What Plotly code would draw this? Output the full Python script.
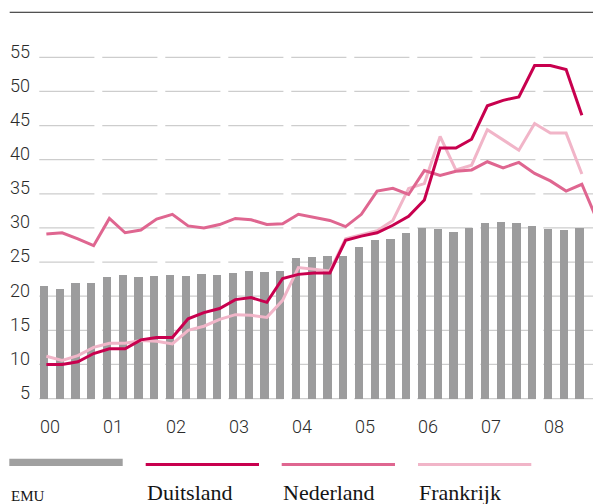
import plotly.graph_objects as go

# ---- data ----
years = ["00", "01", "02", "03", "04", "05", "06", "07", "08"]
quarters = [f"20{y} K{q}" for y in years for q in (1, 2, 3, 4)]

emu = [21.5, 21.1, 21.9, 21.9, 22.8, 23.1, 22.8, 22.9, 23.1, 22.9, 23.2, 23.1,
       23.4, 23.7, 23.5, 23.7, 25.6, 25.7, 25.9, 25.9, 27.2, 28.2, 28.4, 29.2,
       30.0, 29.8, 29.4, 30.0, 30.7, 30.9, 30.7, 30.3, 29.8, 29.7, 30.0]
duitsland = [10.0, 10.0, 10.4, 11.6, 12.3, 12.3, 13.6, 13.95, 13.95, 16.7, 17.6, 18.2,
             19.5, 19.8, 19.1, 22.6, 23.2, 23.4, 23.4, 28.2, 28.8, 29.3, 30.4, 31.7,
             34.1, 41.7, 41.7, 43.0, 47.9, 48.7, 49.2, 53.8, 53.8, 53.2, 46.5]
nederland = [29.1, 29.3, 28.4, 27.4, 31.4, 29.3, 29.7, 31.3, 32.0, 30.3, 30.0, 30.5,
             31.4, 31.2, 30.5, 30.6, 32.0, 31.6, 31.1, 30.2, 32.0, 35.4, 35.8, 34.9,
             38.4, 37.7, 38.3, 38.5, 39.7, 38.8, 39.6, 38.0, 36.9, 35.4, 36.4, 31.0]
frankrijk = [11.2, 10.6, 11.3, 12.5, 13.1, 13.1, 13.5, 13.4, 13.0, 15.0, 15.6, 16.6,
             17.3, 17.2, 16.9, 19.4, 24.2, 24.0, 23.7, 28.4, 29.0, 29.6, 31.1, 35.8,
             36.5, 43.4, 38.5, 39.2, 44.4, 42.9, 41.4, 45.3, 43.9, 43.9, 37.9]
yticks = [5, 10, 15, 20, 25, 30, 35, 40, 45, 50, 55]
series_names = ["EMU", "Duitsland", "Nederland", "Frankrijk"]

# ---- styling ----
C_BAR = "#9c9c9d"
C_DE = "#c8004e"
C_NL = "#df6690"
C_FR = "#f1b5c8"
C_GRID = "#cdcdcd"
TXT = "#2b2b2b"

W, H = 593, 504
ML, MR, MT = 36, 0, 40
PB = 401.7  # pixel y of plot bottom
MB = H - PB
PW = W - ML - MR
PH = PB - MT
XR = [-0.508, 34.857]
YR = [4.5, 57.54]
LOFF = 0.15  # lines sit slightly right of bar centres


def px(xp):
    return (xp - ML) / PW


def py(yp):
    return (PB - yp) / PH


fig = go.Figure()
fig.add_trace(go.Bar(
    x=list(range(len(emu))), y=[v - 5 for v in emu], base=5,
    width=0.51, marker=dict(color=C_BAR, line=dict(width=0)),
    name=series_names[0], hovertext=quarters[:len(emu)]))
for vals, col, nm in [(frankrijk, C_FR, series_names[3]),
                      (nederland, C_NL, series_names[2]),
                      (duitsland, C_DE, series_names[1])]:
    fig.add_trace(go.Scatter(
        x=[i + LOFF for i in range(len(vals))], y=vals, mode="lines",
        line=dict(color=col, width=3), name=nm,
        hovertext=quarters[:len(vals)]))

shapes = []
# segmented gridlines per year
for k in range(len(years)):
    x0 = 4 * k - 0.3
    x1 = min(4 * k + 3.2, XR[1])
    for t in yticks:
        shapes.append(dict(type="line", xref="x", yref="y", x0=x0, x1=x1,
                           y0=t, y1=t, layer="below",
                           line=dict(color=C_GRID, width=1.3)))
# top rule
shapes.append(dict(type="line", xref="paper", yref="paper", x0=px(9.7), x1=1.0,
                   y0=py(12.3), y1=py(12.3), line=dict(color="#1e1e1e", width=1)))
# legend swatches
shapes.append(dict(type="rect", xref="paper", yref="paper", x0=px(9.3), x1=px(122.7),
                   y0=py(465.7), y1=py(458.3), fillcolor="#a0a0a0", line=dict(width=0)))
for (xa, xb), col in [((145.7, 259.0), C_DE), ((281.7, 395.0), C_NL), ((418.0, 531.3), C_FR)]:
    shapes.append(dict(type="line", xref="paper", yref="paper", x0=px(xa), x1=px(xb),
                       y0=py(464.2), y1=py(464.2), line=dict(color=col, width=3)))

ann = []
axfont = dict(family="Roboto, 'Liberation Sans', sans-serif", size=18, color=TXT, weight=300)
for t in yticks:
    ann.append(dict(xref="paper", yref="y", x=px(31.5), y=t, text=str(t), showarrow=False,
                    xanchor="right", yanchor="middle", yshift=6.2, font=axfont))
for k, lab in enumerate(years):
    ann.append(dict(xref="x", yref="paper", x=4 * k - 0.3, y=py(426.1), text=lab,
                    showarrow=False, xanchor="left", yanchor="middle", xshift=-1.5,
                    font=axfont))
serif = "'Liberation Serif', 'DejaVu Serif', serif"
ann.append(dict(xref="paper", yref="paper", x=px(8.5), y=py(495.6), text=series_names[0],
                showarrow=False, xanchor="left", yanchor="middle",
                font=dict(family=serif, size=15, color="#151515")))
for xl, nm in [(144.5, series_names[1]), (280.5, series_names[2]), (417.0, series_names[3])]:
    ann.append(dict(xref="paper", yref="paper", x=px(xl), y=py(492.6), text=nm,
                    showarrow=False, xanchor="left", yanchor="middle",
                    font=dict(family=serif, size=22, color="#151515")))

fig.update_layout(
    width=W, height=H,
    margin=dict(l=ML, r=MR, t=MT, b=MB, pad=0, autoexpand=False),
    paper_bgcolor="white", plot_bgcolor="white",
    showlegend=False, bargap=0,
    xaxis=dict(range=XR, showgrid=False, zeroline=False, showticklabels=False,
               ticks="", showline=False, fixedrange=True),
    yaxis=dict(range=YR, showgrid=False, zeroline=False, showticklabels=False,
               ticks="", showline=False, fixedrange=True),
    shapes=shapes, annotations=ann,
)
fig.write_html(
    "out.html",
    config={"displayModeBar": False, "staticPlot": True},
    post_script="document.body.style.margin='0px';document.body.style.overflow='hidden';",
)
